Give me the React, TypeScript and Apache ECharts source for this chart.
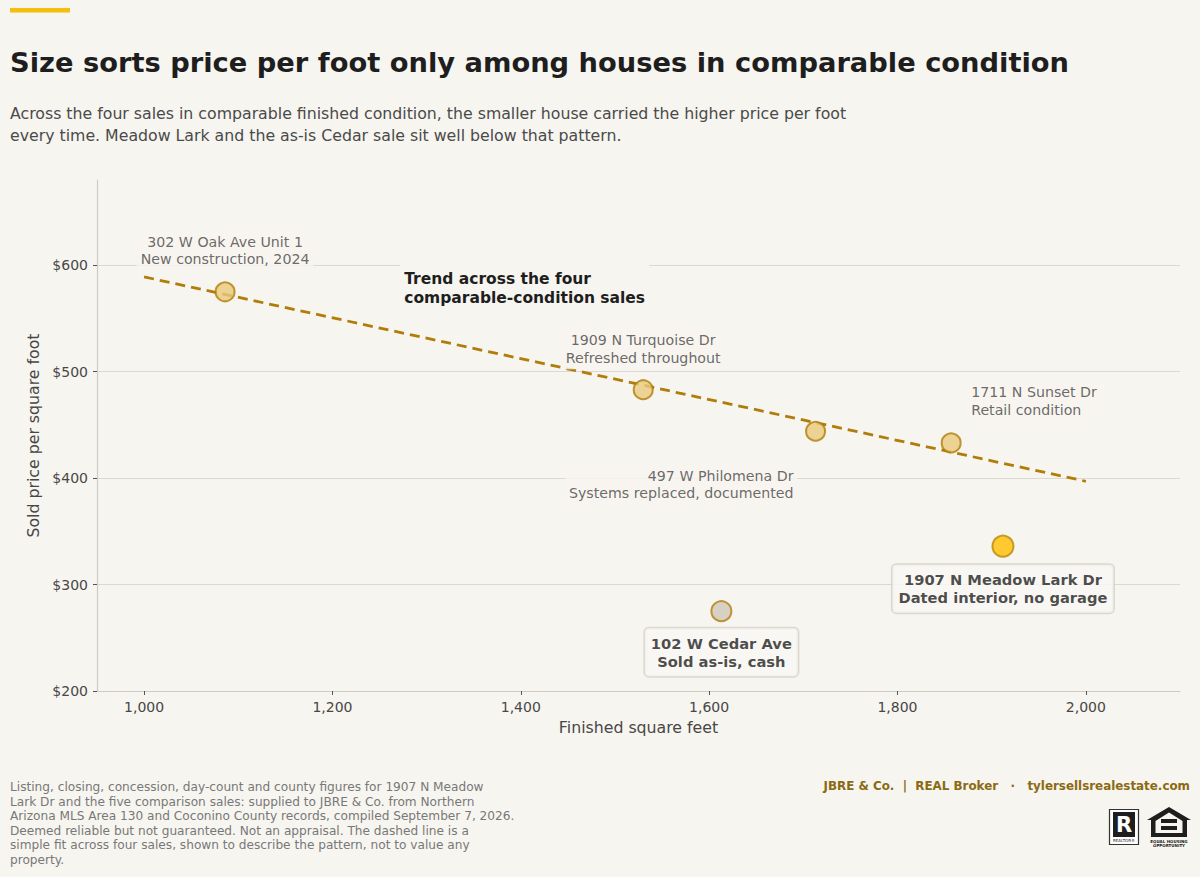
import React, { useEffect, useRef } from "react";
import * as echarts from "echarts";

const BG = "#F7F5F0";
const FONT = '"DejaVu Sans", Verdana, sans-serif';
const GOLD = "#B07D0A";

// ---- data ----
const comparableNames = ["302 W Oak Ave Unit 1", "1909 N Turquoise Dr", "497 W Philomena Dr", "1711 N Sunset Dr"];
const comparableNotes = ["New construction, 2024", "Refreshed throughout", "Systems replaced, documented", "Retail condition"];
const comparableSqft = [1086, 1530, 1713, 1857];
const comparablePpsf = [575, 483, 444, 433];

const subjectName = "1907 N Meadow Lark Dr";
const subjectNote = "Dated interior, no garage";
const subjectSqft = [1912];
const subjectPpsf = [336];

const asIsName = "102 W Cedar Ave";
const asIsNote = "Sold as-is, cash";
const asIsSqft = [1613];
const asIsPpsf = [275];

const trendSqft = [1000, 2000];
const trendPpsf = [589, 397];
const trendLabel = "Trend across the four\ncomparable-condition sales";
const trendLabelAt = [1272, 578];

const xTicks = [1000, 1200, 1400, 1600, 1800, 2000];
const yTicks = [200, 300, 400, 500, 600];

const titleText = "Size sorts price per foot only among houses in comparable condition";
const subtitleText =
  "Across the four sales in comparable finished condition, the smaller house carried the higher price per foot\nevery time. Meadow Lark and the as-is Cedar sale sit well below that pattern.";
const footnoteText =
  "Listing, closing, concession, day-count and county figures for 1907 N Meadow\nLark Dr and the five comparison sales: supplied to JBRE & Co. from Northern\nArizona MLS Area 130 and Coconino County records, compiled September 7, 2026.\nDeemed reliable but not guaranteed. Not an appraisal. The dashed line is a\nsimple fit across four sales, shown to describe the pattern, not to value any\nproperty.";
const brandText = "JBRE & Co.  |  REAL Broker   \u00b7   tylersellsrealestate.com";

// label layouts per comparable point (style only)
const comparableLabelLayouts: any[] = [
  { position: "top", distance: 12, align: "center", lineHeight: 17 },
  { position: "top", distance: 10, align: "center", lineHeight: 18 },
  { position: "inside", align: "right", verticalAlign: "top", offset: [-18, 35], lineHeight: 16.5 },
  { position: "inside", align: "left", verticalAlign: "middle", offset: [16, -42], lineHeight: 18 },
];

function fmtThousands(v: number) {
  return String(v).replace(/\B(?=(\d{3})+(?!\d))/g, ",");
}

function buildOption(): any {
  const plainLabel = {
    show: true,
    fontSize: 14.2,
    color: "#454545",
    backgroundColor: BG,
    padding: [2, 4],
    fontFamily: FONT,
  };
  const boxLabel = {
    show: true,
    position: "bottom",
    fontSize: 14.7,
    fontWeight: "bold",
    color: "#1E1E1E",
    lineHeight: 18,
    backgroundColor: "#F9F8F4",
    borderColor: "#D4D0C7",
    borderWidth: 1.5,
    borderRadius: 4,
    padding: [6, 6],
    fontFamily: FONT,
  };

  const comparableData = comparableSqft.map((x, i) => ({
    value: [x, comparablePpsf[i]],
    name: comparableNames[i],
    label: {
      ...plainLabel,
      ...comparableLabelLayouts[i],
      formatter: comparableNames[i] + "\n" + comparableNotes[i],
    },
  }));

  return {
    animation: false,
    backgroundColor: BG,
    textStyle: { fontFamily: FONT },
    grid: { left: 97, right: 20, top: 180, bottom: 186 },
    xAxis: {
      type: "value",
      min: 950,
      max: 2100,
      name: "Finished square feet",
      nameLocation: "middle",
      nameGap: 28,
      nameTextStyle: { fontSize: 15.75, color: "#474747", fontFamily: FONT },
      axisLine: { show: true, lineStyle: { color: "#CFCBC3", width: 1.2 } },
      axisTick: { show: true, customValues: xTicks, length: 4, lineStyle: { color: "#555" } },
      axisLabel: {
        customValues: xTicks,
        formatter: (v: number) => fmtThousands(v),
        fontSize: 14,
        color: "#474747",
        margin: 9,
        fontFamily: FONT,
      },
      splitLine: { show: false },
    },
    yAxis: {
      type: "value",
      min: 200,
      max: 680,
      interval: 100,
      name: "Sold price per square foot",
      nameLocation: "middle",
      nameGap: 49,
      nameTextStyle: { fontSize: 15.75, color: "#474747", fontFamily: FONT },
      axisLine: { show: true, lineStyle: { color: "#CFCBC3", width: 1.2 } },
      axisTick: { show: true, customValues: yTicks, length: 4, lineStyle: { color: "#555" } },
      axisLabel: {
        customValues: yTicks,
        formatter: (v: number) => "$" + v,
        fontSize: 14,
        color: "#474747",
        margin: 9,
        fontFamily: FONT,
      },
      splitLine: { show: true, showMinLine: false, lineStyle: { color: "#DCD9D2", width: 1 } },
    },
    series: [
      {
        name: "Trend",
        type: "line",
        data: trendSqft.map((x, i) => [x, trendPpsf[i]]),
        symbol: "none",
        lineStyle: { color: GOLD, width: 2.8, type: [10, 6] },
        z: 2,
        silent: true,
        markPoint: {
          symbol: "circle",
          symbolSize: 0,
          silent: true,
          data: [
            {
              coord: trendLabelAt,
              label: {
                show: true,
                position: "inside",
                align: "left",
                verticalAlign: "middle",
                formatter: trendLabel,
                fontSize: 15.5,
                fontWeight: "bold",
                color: "#1E1E1E",
                lineHeight: 19,
                backgroundColor: BG,
                padding: [8, 4],
                fontFamily: FONT,
              },
            },
          ],
        },
      },
      {
        name: "Comparable",
        type: "scatter",
        data: comparableData,
        symbolSize: 19,
        itemStyle: { color: "#E8C97C", borderColor: GOLD, borderWidth: 2 },
        z: 4,
      },
      {
        name: "As-is",
        type: "scatter",
        data: asIsSqft.map((x, i) => ({
          value: [x, asIsPpsf[i]],
          label: { ...boxLabel, distance: 6, formatter: asIsName + "\n" + asIsNote },
        })),
        symbolSize: 20,
        itemStyle: { color: "#CFC7B7", borderColor: GOLD, borderWidth: 2 },
        z: 4,
      },
      {
        name: "Subject",
        type: "scatter",
        data: subjectSqft.map((x, i) => ({
          value: [x, subjectPpsf[i]],
          label: { ...boxLabel, distance: 7, formatter: subjectName + "\n" + subjectNote },
        })),
        symbolSize: 21,
        itemStyle: { color: "#FFBF00", borderColor: "#B8860B", borderWidth: 2 },
        z: 5,
      },
    ],
    graphic: [
      { type: "rect", shape: { x: 10, y: 8, width: 60, height: 4.5 }, style: { fill: "#F5BE0B" } },
      {
        type: "text",
        x: 10,
        y: 62,
        style: {
          text: titleText,
          fill: "#1E1E1E",
          fontSize: 27.3,
          fontWeight: "bold",
          fontFamily: FONT,
          verticalAlign: "middle",
        },
      },
      {
        type: "text",
        x: 10,
        y: 102,
        style: {
          text: subtitleText,
          fill: "#4A4A4A",
          fontSize: 15.75,
          lineHeight: 22,
          fontFamily: FONT,
          verticalAlign: "top",
        },
      },
      {
        type: "text",
        x: 10,
        y: 780,
        style: {
          text: footnoteText,
          fill: "#787878",
          fontSize: 12.15,
          lineHeight: 14.5,
          fontFamily: FONT,
          verticalAlign: "top",
        },
      },
      {
        type: "text",
        x: 1190,
        y: 786,
        style: {
          text: brandText,
          fill: "#8A6A12",
          fontSize: 11.9,
          fontWeight: "bold",
          fontFamily: FONT,
          align: "right",
          verticalAlign: "middle",
        },
      },
      // Realtor logo
      { type: "rect", shape: { x: 1109.5, y: 809.5, width: 29, height: 35 }, style: { fill: "#FFFFFF", stroke: "#333", lineWidth: 1.2 } },
      { type: "rect", shape: { x: 1113, y: 812, width: 22, height: 25 }, style: { fill: "#1E1E1E" } },
      {
        type: "text",
        x: 1124,
        y: 825,
        style: { text: "R", fill: "#FFFFFF", fontSize: 21, fontWeight: "bold", fontFamily: FONT, align: "center", verticalAlign: "middle" },
      },
      {
        type: "text",
        x: 1124,
        y: 840.5,
        style: { text: "REALTOR\u00ae", fill: "#222", fontSize: 4, fontFamily: FONT, align: "center", verticalAlign: "middle" },
      },
      // Equal housing logo
      {
        type: "polygon",
        shape: { points: [[1169, 807], [1191, 820], [1187, 820], [1187, 837], [1151, 837], [1151, 820], [1147, 820]] },
        style: { fill: "#1E1E1E" },
      },
      {
        type: "polygon",
        shape: { points: [[1169, 812.5], [1182.5, 821], [1182.5, 833], [1155.5, 833], [1155.5, 821]] },
        style: { fill: BG },
      },
      { type: "rect", shape: { x: 1161, y: 819, width: 16, height: 4 }, style: { fill: "#1E1E1E" } },
      { type: "rect", shape: { x: 1161, y: 826, width: 16, height: 4 }, style: { fill: "#1E1E1E" } },
      {
        type: "text",
        x: 1169,
        y: 841,
        style: { text: "EQUAL HOUSING", fill: "#222", fontSize: 4, fontWeight: "bold", fontFamily: FONT, align: "center", verticalAlign: "middle" },
      },
      {
        type: "text",
        x: 1169,
        y: 845.5,
        style: { text: "OPPORTUNITY", fill: "#222", fontSize: 4, fontWeight: "bold", fontFamily: FONT, align: "center", verticalAlign: "middle" },
      },
    ],
  };
}

export default function App() {
  const ref = useRef<HTMLDivElement>(null);
  useEffect(() => {
    document.body.style.margin = "0";
    document.body.style.background = BG;
    if (!ref.current) return;
    const chart = echarts.init(ref.current, null, { renderer: "svg" });
    chart.setOption(buildOption());
    return () => chart.dispose();
  }, []);
  return <div ref={ref} style={{ width: 1200, height: 877, background: BG }} />;
}
